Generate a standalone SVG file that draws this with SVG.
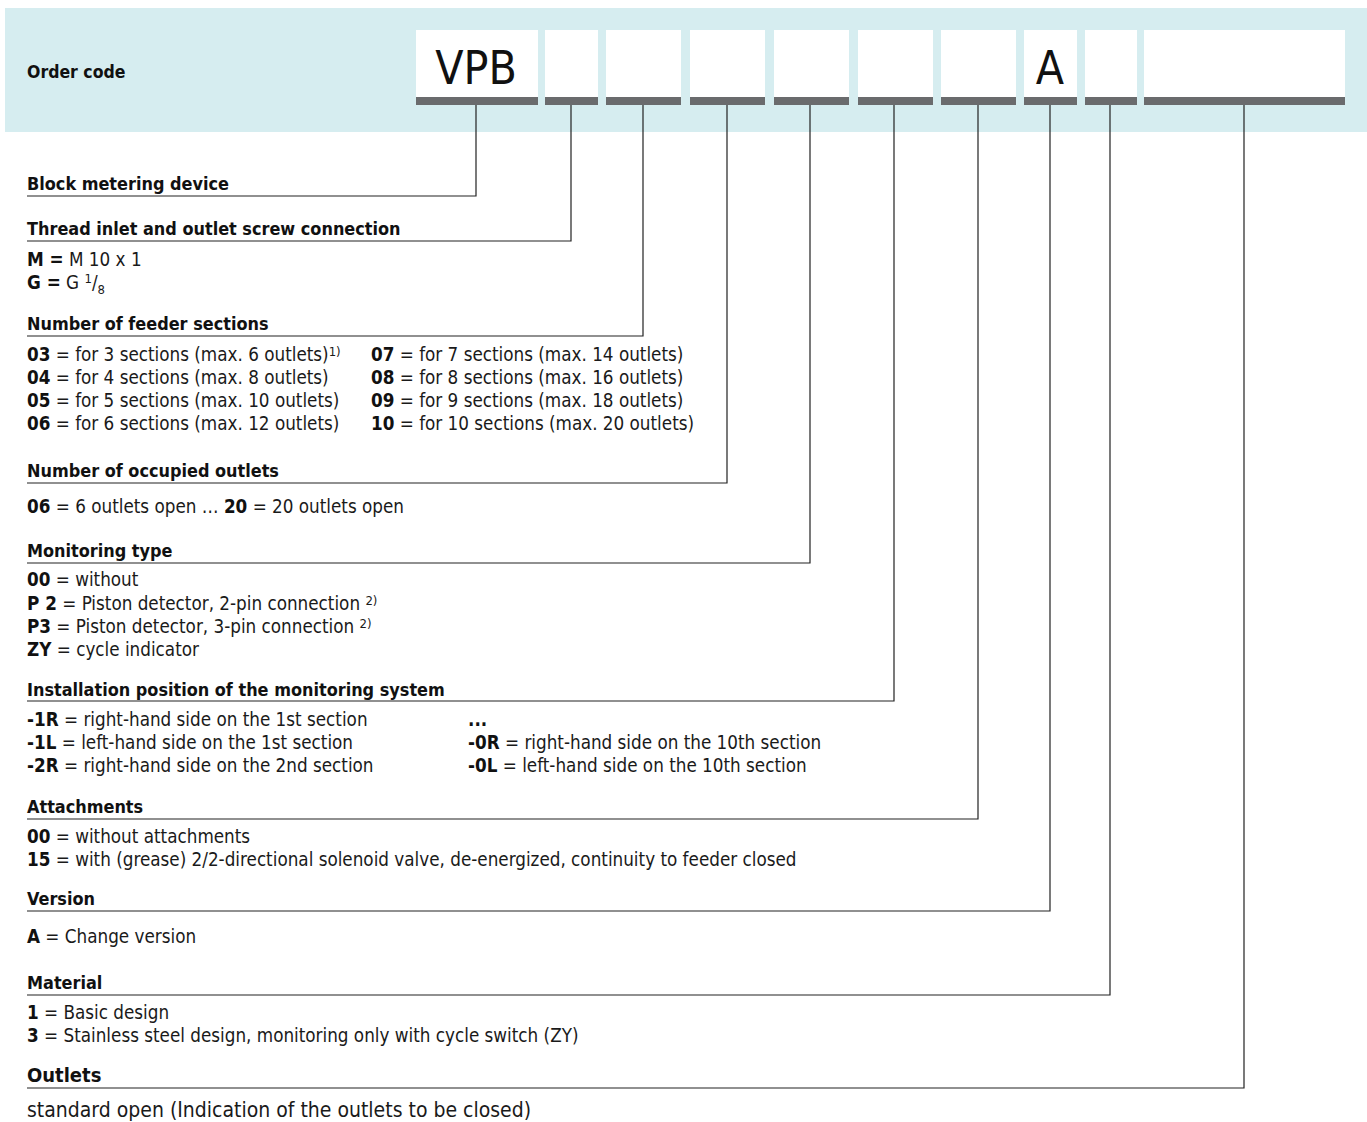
<svg xmlns="http://www.w3.org/2000/svg" width="1367" height="1122" viewBox="0 0 1367 1122">
<style>
text{font-family:"DejaVu Sans Condensed","Liberation Sans",sans-serif;fill:#1a1a1a;font-size:18.7px}
.h{font-weight:bold;font-size:17.9px;fill:#111}
.b{font-weight:bold;fill:#111}
.big{font-size:46px;fill:#111;text-anchor:middle}
.box{fill:#fff}
.bar{fill:#6a6b6d}
.ln{stroke:#222;stroke-width:1.2;fill:none}
.sup{font-size:13px}
</style>
<rect x="5" y="8" width="1362" height="124" fill="#d6edf0"/>
<g id="header">
<text x="27" y="78" class="h" style="font-size:17.5px">Order code</text>
<g id="box-vpb"><rect class="box" x="416" y="30" width="122" height="75"/><rect class="bar" x="416" y="97" width="122" height="8"/><text class="big" x="476" y="84">VPB</text></g>
<g id="box-2"><rect class="box" x="545" y="30" width="53" height="75"/><rect class="bar" x="545" y="97" width="53" height="8"/></g>
<g id="box-3"><rect class="box" x="606" y="30" width="75" height="75"/><rect class="bar" x="606" y="97" width="75" height="8"/></g>
<g id="box-4"><rect class="box" x="690" y="30" width="75" height="75"/><rect class="bar" x="690" y="97" width="75" height="8"/></g>
<g id="box-5"><rect class="box" x="774" y="30" width="75" height="75"/><rect class="bar" x="774" y="97" width="75" height="8"/></g>
<g id="box-6"><rect class="box" x="858" y="30" width="75" height="75"/><rect class="bar" x="858" y="97" width="75" height="8"/></g>
<g id="box-7"><rect class="box" x="941" y="30" width="75" height="75"/><rect class="bar" x="941" y="97" width="75" height="8"/></g>
<g id="box-a"><rect class="box" x="1024" y="30" width="53" height="75"/><rect class="bar" x="1024" y="97" width="53" height="8"/><text class="big" x="1050" y="84">A</text></g>
<g id="box-9"><rect class="box" x="1085" y="30" width="52" height="75"/><rect class="bar" x="1085" y="97" width="52" height="8"/></g>
<g id="box-10"><rect class="box" x="1144" y="30" width="201" height="75"/><rect class="bar" x="1144" y="97" width="201" height="8"/></g>
</g>
<g id="connectors">
<path class="ln" d="M476 105V196H27"/>
<path class="ln" d="M571 105V241H27"/>
<path class="ln" d="M643 105V336H27"/>
<path class="ln" d="M727 105V483H27"/>
<path class="ln" d="M810 105V563H27"/>
<path class="ln" d="M894 105V701H27"/>
<path class="ln" d="M978 105V819H27"/>
<path class="ln" d="M1050 105V911H27"/>
<path class="ln" d="M1110 105V995H27"/>
<path class="ln" d="M1244 105V1088H27"/>
</g>
<g id="block">
<text class="h" x="27" y="190">Block metering device</text>
</g>
<g id="thread">
<text class="h" x="27" y="235">Thread inlet and outlet screw connection</text>
<text x="27" y="266"><tspan class="b">M =</tspan> M 10 x 1</text>
<text x="27" y="289"><tspan class="b">G =</tspan> G <tspan class="sup" dy="-6">1</tspan><tspan dy="6">/</tspan><tspan class="sup" dy="5">8</tspan></text>
</g>
<g id="sections">
<text class="h" x="27" y="330">Number of feeder sections</text>
<text x="27" y="361"><tspan class="b">03</tspan> = for 3 sections (max. 6 outlets)<tspan class="sup" dy="-5">1)</tspan></text>
<text x="27" y="384"><tspan class="b">04</tspan> = for 4 sections (max. 8 outlets)</text>
<text x="27" y="407"><tspan class="b">05</tspan> = for 5 sections (max. 10 outlets)</text>
<text x="27" y="430"><tspan class="b">06</tspan> = for 6 sections (max. 12 outlets)</text>
<text x="371" y="361"><tspan class="b">07</tspan> = for 7 sections (max. 14 outlets)</text>
<text x="371" y="384"><tspan class="b">08</tspan> = for 8 sections (max. 16 outlets)</text>
<text x="371" y="407"><tspan class="b">09</tspan> = for 9 sections (max. 18 outlets)</text>
<text x="371" y="430"><tspan class="b">10</tspan> = for 10 sections (max. 20 outlets)</text>
</g>
<g id="occupied">
<text class="h" x="27" y="477">Number of occupied outlets</text>
<text x="27" y="513"><tspan class="b">06</tspan> = 6 outlets open … <tspan class="b">20</tspan> = 20 outlets open</text>
</g>
<g id="monitoring">
<text class="h" x="27" y="557">Monitoring type</text>
<text x="27" y="586"><tspan class="b">00</tspan> = without</text>
<text x="27" y="610"><tspan class="b">P 2</tspan> = Piston detector, 2-pin connection <tspan class="sup" dy="-5">2)</tspan></text>
<text x="27" y="633"><tspan class="b">P3</tspan> = Piston detector, 3-pin connection <tspan class="sup" dy="-5">2)</tspan></text>
<text x="27" y="656"><tspan class="b">ZY</tspan> = cycle indicator</text>
</g>
<g id="installation">
<text class="h" x="27" y="696">Installation position of the monitoring system</text>
<text x="27" y="726"><tspan class="b">-1R</tspan> = right-hand side on the 1st section</text>
<text x="27" y="749"><tspan class="b">-1L</tspan> = left-hand side on the 1st section</text>
<text x="27" y="772"><tspan class="b">-2R</tspan> = right-hand side on the 2nd section</text>
<text x="468" y="726" class="b">...</text>
<text x="468" y="749"><tspan class="b">-0R</tspan> = right-hand side on the 10th section</text>
<text x="468" y="772"><tspan class="b">-0L</tspan> = left-hand side on the 10th section</text>
</g>
<g id="attachments">
<text class="h" x="27" y="813">Attachments</text>
<text x="27" y="843"><tspan class="b">00</tspan> = without attachments</text>
<text x="27" y="866"><tspan class="b">15</tspan> = with (grease) 2/2-directional solenoid valve, de-energized, continuity to feeder closed</text>
</g>
<g id="version">
<text class="h" x="27" y="905">Version</text>
<text x="27" y="943"><tspan class="b">A</tspan> = Change version</text>
</g>
<g id="material">
<text class="h" x="27" y="989">Material</text>
<text x="27" y="1019"><tspan class="b">1</tspan> = Basic design</text>
<text x="27" y="1042"><tspan class="b">3</tspan> = Stainless steel design, monitoring only with cycle switch (ZY)</text>
</g>
<g id="outlets">
<text class="h" x="27" y="1082" style="font-size:20px">Outlets</text>
<text x="27" y="1117" style="font-size:21px">standard open (Indication of the outlets to be closed)</text>
</g>
</svg>
